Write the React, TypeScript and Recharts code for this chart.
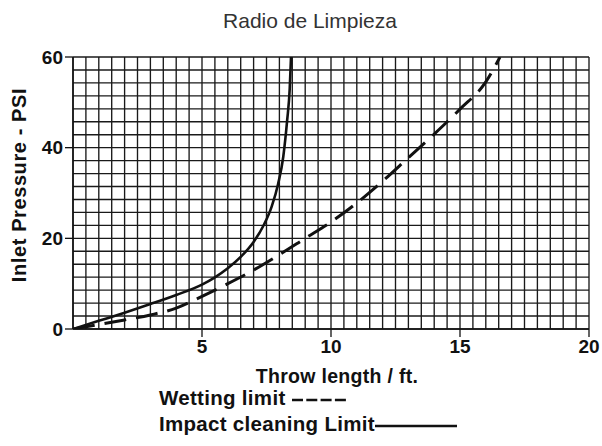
import React from 'react';
import { LineChart, Line, XAxis, YAxis, CartesianGrid } from 'recharts';

const impactX = [0, 1, 2, 3, 4, 5, 5.5, 6, 6.5, 7, 7.4, 7.7, 7.95, 8.15, 8.3, 8.4, 8.45];
const impactPsi = [0, 1.8, 3.6, 5.5, 7.5, 9.8, 11.4, 13.4, 15.9, 19.2, 23, 27, 32, 38, 46, 53, 60];

const wettingX = [0, 1, 2, 3, 4, 5, 6, 7, 8, 9, 10, 11, 12, 13, 14, 15, 16, 16.55];
const wettingPsi = [0, 1.0, 2.0, 3.1, 4.6, 7.2, 10, 13, 16.4, 20, 23.6, 27.8, 32.6, 37.8, 43, 48.5, 54.5, 60];

const xTicks = [5, 10, 15, 20];
const yTicks = [0, 20, 40, 60];

// graph paper: 40 columns across, 21 rows up
const GRID_COLS = 40;
const GRID_ROWS = 21;

const impactData = impactX.map((x, i) => ({ x, psi: impactPsi[i] }));
const wettingData = wettingX.map((x, i) => ({ x, psi: wettingPsi[i] }));

const FONT = '"Liberation Sans", Arial, Helvetica, sans-serif';

const verticalLines = ({ offset }: any) =>
  Array.from({ length: GRID_COLS + 1 }, (_, i) => offset.left + (i * offset.width) / GRID_COLS);

const horizontalLines = ({ offset }: any) =>
  Array.from({ length: GRID_ROWS + 1 }, (_, i) => offset.top + (i * offset.height) / GRID_ROWS);

const YLabel = () => (
  <text
    x={19}
    y={185}
    transform="rotate(-90 19 185)"
    textAnchor="middle"
    dominantBaseline="central"
    fontFamily={FONT}
    fontWeight="bold"
    fontSize={20}
    letterSpacing={0.6}
    fill="#111"
  >
    Inlet Pressure - PSI
  </text>
);

const XLabel = () => (
  <text
    x={337}
    y={376}
    textAnchor="middle"
    dominantBaseline="central"
    fontFamily={FONT}
    fontWeight="bold"
    fontSize={19.5}
    letterSpacing={0.3}
    fill="#111"
  >
    Throw length / ft.
  </text>
);

export default function App() {
  return (
    <div style={{ position: 'absolute', left: 0, top: 0, width: 602, height: 446, background: '#fff' }}>
      <div
        style={{
          position: 'absolute',
          left: 210,
          width: 200,
          top: 9,
          textAlign: 'center',
          fontFamily: FONT,
          fontSize: 21,
          color: '#333',
          whiteSpace: 'nowrap',
        }}
      >
        Radio de Limpieza
      </div>
      <LineChart width={602} height={446} margin={{ top: 57, right: 13, left: 30, bottom: 57 }}>
        <CartesianGrid
          stroke="#1a1a1a"
          strokeWidth={1.35}
          verticalCoordinatesGenerator={verticalLines}
          horizontalCoordinatesGenerator={horizontalLines}
        />
        <XAxis
          type="number"
          dataKey="x"
          domain={[0, 20]}
          ticks={xTicks}
          allowDataOverflow
          height={60}
          tickSize={8}
          tickMargin={3}
          axisLine={{ stroke: '#111', strokeWidth: 1.5 }}
          tickLine={{ stroke: '#111', strokeWidth: 1.3 }}
          tick={{ fill: '#111', fontSize: 19, fontWeight: 'bold', fontFamily: FONT }}
          label={<XLabel />}
        />
        <YAxis
          type="number"
          domain={[0, 60]}
          ticks={yTicks}
          allowDataOverflow
          width={43}
          tickSize={8}
          tickMargin={2}
          axisLine={{ stroke: '#111', strokeWidth: 1.5 }}
          tickLine={{ stroke: '#111', strokeWidth: 1.3 }}
          tick={{ fill: '#111', fontSize: 19, fontWeight: 'bold', fontFamily: FONT }}
          label={<YLabel />}
        />
        <Line
          data={wettingData}
          dataKey="psi"
          type="monotone"
          stroke="#111"
          strokeWidth={3}
          strokeDasharray="22 10"
          dot={false}
          isAnimationActive={false}
        />
        <Line
          data={impactData}
          dataKey="psi"
          type="monotone"
          stroke="#111"
          strokeWidth={2.6}
          dot={false}
          isAnimationActive={false}
        />
      </LineChart>
      <div
        style={{
          position: 'absolute',
          left: 159,
          top: 385,
          fontFamily: FONT,
          fontWeight: 'bold',
          fontSize: 20.5,
          letterSpacing: 0.3,
          color: '#111',
          lineHeight: '26px',
          whiteSpace: 'nowrap',
        }}
      >
        <div>
          Wetting limit{' '}
          <svg width={54} height={10} style={{ verticalAlign: 'middle' }}>
            <line x1={0} y1={5} x2={54} y2={5} stroke="#111" strokeWidth={2.5} strokeDasharray="11 3.3" />
          </svg>
        </div>
        <div>
          Impact cleaning Limit
          <svg width={82} height={10} style={{ verticalAlign: 'middle' }}>
            <line x1={0} y1={5} x2={82} y2={5} stroke="#111" strokeWidth={2.5} />
          </svg>
        </div>
      </div>
    </div>
  );
}
